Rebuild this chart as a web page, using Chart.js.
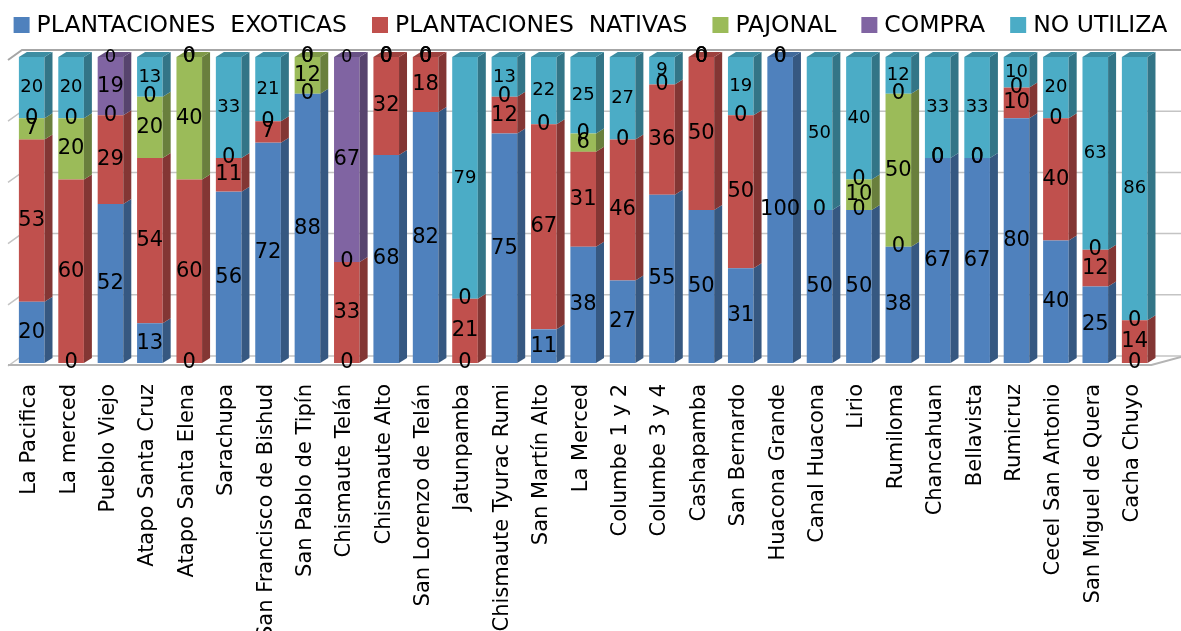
<!DOCTYPE html>
<html>
<head>
<meta charset="utf-8">
<script src="https://cdn.jsdelivr.net/npm/chart.js@4.4.1/dist/chart.umd.min.js"></script>
<style>
html,body{margin:0;padding:0;background:#ffffff;}
#wrap{width:1181px;height:631px;position:relative;}
</style>
</head>
<body>
<div id="wrap"><canvas id="c" width="1181" height="631"></canvas></div>
<script>
// ---------- DATA ----------
const categories = ["La Pacifica","La merced","Pueblo Viejo","Atapo Santa Cruz","Atapo Santa Elena","Sarachupa","San Francisco de Bishud","San Pablo de Tipín","Chismaute Telán","Chismaute Alto","San Lorenzo de Telán","Jatunpamba","Chismaute Tyurac Rumi","San Martín Alto","La Merced","Columbe 1 y 2","Columbe 3 y 4","Cashapamba","San Bernardo","Huacona Grande","Canal Huacona","Lirio","Rumiloma","Chancahuan","Bellavista","Rumicruz","Cecel San Antonio","San Miguel de Quera","Cacha Chuyo"];
const seriesNames = ["PLANTACIONES  EXOTICAS","PLANTACIONES  NATIVAS","PAJONAL","COMPRA","NO UTILIZA"];
const exoticas  = [20, 0, 52, 13, 0, 56, 72, 88, 0, 68, 82, 0, 75, 11, 38, 27, 55, 50, 31, 100, 50, 50, 38, 67, 67, 80, 40, 25, 0];
const nativas   = [53, 60, 29, 54, 60, 11, 7, 0, 33, 32, 18, 21, 12, 67, 31, 46, 36, 50, 50, null, 0, 0, 0, 0, 0, 10, 40, 12, 14];
const pajonal   = [7, 20, 0, 20, 40, 0, 0, 12, 0, 0, 0, 0, 0, 0, 6, 0, 0, 0, 0, null, null, 10, 50, 0, 0, 0, 0, 0, 0];
const compra    = [0, 0, 19, 0, 0, null, null, 0, 67, 0, 0, null, null, null, 0, null, null, 0, null, 0, null, 0, 0, null, null, null, null, null, null];
const noUtiliza = [20, 20, 0, 13, 0, 33, 21, 0, 0, 0, 0, 79, 13, 22, 25, 27, 9, 0, 19, 0, 50, 40, 12, 33, 33, 10, 20, 63, 86];
const yTicks = [0, 20, 40, 60, 80, 100];

// ---------- STYLE ----------
const colors = ["#4F81BD", "#C0504D", "#9BBB59", "#8064A2", "#4BACC6"];
const labelSizes = [21, 21, 21, 21, 18];
const FONT = "'DejaVu Sans', sans-serif";
const DX = 8, DY = 5;

function shade(hex, f) {
  const n = parseInt(hex.slice(1), 16);
  const r = Math.round(((n >> 16) & 255) * f), g = Math.round(((n >> 8) & 255) * f), b = Math.round((n & 255) * f);
  return `rgb(${r},${g},${b})`;
}

const wallPlugin = {
  id: 'wall3d',
  beforeDatasetsDraw(chart) {
    const ctx = chart.ctx, ys = chart.scales.y, a = chart.chartArea;
    ctx.save();
    yTicks.forEach(v => {
      const py = ys.getPixelForValue(v);
      ctx.strokeStyle = v === 100 ? '#A6A6A6' : '#C4C4C4';
      ctx.lineWidth = v === 100 ? 2 : 1.5;
      ctx.beginPath();
      ctx.moveTo(a.left - 4, py + 3);
      ctx.lineTo(a.left + 10, py - 7);
      ctx.lineTo(chart.width, py - 7);
      ctx.stroke();
    });
    const p0 = ys.getPixelForValue(0);
    ctx.strokeStyle = '#B4B4B4';
    ctx.lineWidth = 2;
    ctx.beginPath();
    ctx.moveTo(a.left - 4, p0 + 2);
    ctx.lineTo(a.right - 3, p0 + 2);
    ctx.lineTo(chart.width, p0 - 6);
    ctx.stroke();
    ctx.restore();
  },
  afterDatasetsDraw(chart) {
    const ctx = chart.ctx;
    const dsets = chart.data.datasets;
    const n = chart.data.labels.length;
    ctx.save();
    for (let i = 0; i < n; i++) {
      let topIdx = -1;
      dsets.forEach((d, di) => { if (d.data[i]) topIdx = di; });
      dsets.forEach((d, di) => {
        const v = d.data[i];
        if (!v) return;
        const el = chart.getDatasetMeta(di).data[i];
        const p = el.getProps(['x', 'y', 'base', 'width'], true);
        const l = p.x - p.width / 2, r = p.x + p.width / 2;
        ctx.fillStyle = shade(colors[di], 0.68);
        ctx.beginPath();
        ctx.moveTo(r, p.y); ctx.lineTo(r + DX, p.y - DY);
        ctx.lineTo(r + DX, p.base - DY); ctx.lineTo(r, p.base);
        ctx.closePath(); ctx.fill();
        if (di === topIdx) {
          ctx.fillStyle = shade(colors[di], 0.82);
          ctx.beginPath();
          ctx.moveTo(l, p.y); ctx.lineTo(l + DX, p.y - DY);
          ctx.lineTo(r + DX, p.y - DY); ctx.lineTo(r, p.y);
          ctx.closePath(); ctx.fill();
        }
      });
    }
    ctx.fillStyle = '#000000';
    ctx.textAlign = 'center';
    ctx.textBaseline = 'middle';
    dsets.forEach((d, di) => {
      ctx.font = `${labelSizes[di]}px ${FONT}`;
      chart.getDatasetMeta(di).data.forEach((el, i) => {
        const v = d.data[i];
        if (v === null || v === undefined) return;
        const p = el.getProps(['x', 'y', 'base'], true);
        ctx.fillText(String(v), p.x, (p.y + p.base) / 2);
      });
    });
    ctx.restore();
  },
  afterDraw(chart) {
    const ctx = chart.ctx;
    ctx.save();
    ctx.font = `23.5px ${FONT}`;
    ctx.textBaseline = 'middle';
    ctx.textAlign = 'left';
    const box = 16, gapT = 7, gapI = 25, cy = 25;
    const widths = seriesNames.map(s => ctx.measureText(s).width);
    const total = widths.reduce((s, w) => s + box + gapT + w, 0) + gapI * (seriesNames.length - 1);
    let x = (chart.width - total) / 2;
    seriesNames.forEach((s, i) => {
      ctx.fillStyle = colors[i];
      ctx.fillRect(x, cy - box / 2, box, box);
      ctx.fillStyle = '#000000';
      ctx.fillText(s, x + box + gapT, cy + 1);
      x += box + gapT + widths[i] + gapI;
    });
    ctx.restore();
  }
};

const seriesData = [exoticas, nativas, pajonal, compra, noUtiliza];
const datasets = seriesData.map((arr, i) => ({
  label: seriesNames[i],
  data: arr,
  backgroundColor: colors[i],
  borderWidth: 0,
  barPercentage: 0.65,
  categoryPercentage: 1.0,
  clip: false
}));

new Chart(document.getElementById('c'), {
  type: 'bar',
  data: { labels: categories, datasets },
  options: {
    responsive: false,
    animation: false,
    layout: { padding: { left: 12, right: 7, top: 57, bottom: 0 } },
    plugins: { legend: { display: false }, tooltip: { enabled: false } },
    scales: {
      x: {
        stacked: true,
        grid: { display: false, drawTicks: false },
        border: { display: false },
        ticks: {
          autoSkip: false, minRotation: 90, maxRotation: 90, padding: 21, labelOffset: -2,
          color: '#000000', font: { family: FONT, size: 21 }
        },
        afterFit(scale) { scale.height = 268; }
      },
      y: {
        stacked: true, min: 0, max: 100, display: false
      }
    }
  },
  plugins: [wallPlugin]
});
</script>
</body>
</html>
